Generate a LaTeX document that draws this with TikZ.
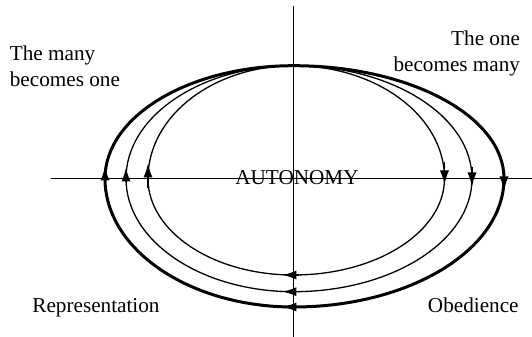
\documentclass[tikz,border=0pt]{standalone}
\usepackage{fontspec}
\setmainfont{Liberation Serif}
\usetikzlibrary{arrows.meta}

\tikzset{
    axisline/.style={line width=0.5pt},
    thinloop/.style={line width=0.65pt},
    thickloop/.style={line width=1.5pt},
    flowarrow/.style={line width=0.8pt,-{Latex[length=7pt,width=4.6pt]}},
    caption/.style={inner sep=0pt,font=\fontsize{10.6}{13}\selectfont},
}

\begin{document}
\begin{tikzpicture}[x=0.5pt,y=0.5pt]
    \useasboundingbox (-293.5,-158.5) rectangle (238.5,178.5);

    % axes
    \coordinate (ntop) at (0,172.5);
    \coordinate (nbot) at (0,-158.5);
    \coordinate (wend) at (-242.5,0);
    \coordinate (eend) at (238.5,0);
    \draw[axisline] (ntop) -- (nbot);
    \draw[axisline] (wend) -- (eend);

    % the three loops, all starting from the top
    \draw[thickloop] (0,112.8) arc[start angle=90,end angle=0,x radius=210.5,y radius=112.8]
        arc[start angle=0,end angle=-90,x radius=210.5,y radius=128.5]
        arc[start angle=270,end angle=180,x radius=188.5,y radius=128.5]
        arc[start angle=180,end angle=90,x radius=188.5,y radius=112.8];
    \draw[thinloop] (0,112.8) arc[start angle=90,end angle=0,x radius=178.5,y radius=112.8]
        arc[start angle=0,end angle=-90,x radius=178.5,y radius=113.2]
        arc[start angle=270,end angle=180,x radius=167.5,y radius=113.2]
        arc[start angle=180,end angle=90,x radius=167.5,y radius=112.8];
    \draw[thinloop] (0,112.8) arc[start angle=90,end angle=0,x radius=151,y radius=112.8]
        arc[start angle=0,end angle=-90,x radius=151,y radius=96.5]
        arc[start angle=270,end angle=180,x radius=145.5,y radius=96.5]
        arc[start angle=180,end angle=90,x radius=145.5,y radius=112.8];

    % arrows, right side (down)
    \draw[flowarrow] (210.5,6.5) -- (210.5,-12);
    \draw[flowarrow] (178.5,11.5) -- (178.5,-8);
    \draw[flowarrow] (151,16.5) -- (151,-6);
    % arrows, bottom (left)
    \draw[flowarrow] (6,-128.5) -- (-11,-128.5);
    \draw[flowarrow] (6,-113.2) -- (-11,-113.2);
    \draw[flowarrow] (6,-96.5) -- (-11,-96.5);
    % arrows, left side (up)
    \draw[flowarrow] (-188.5,-3) -- (-188.5,12);
    \draw[flowarrow] (-167.5,-3) -- (-167.5,11);
    \draw[flowarrow] (-145.5,-9.5) -- (-145.5,15);

    % labels
    \node[caption,anchor=north west,align=left] (many) at (-284,133) {The many\\becomes one};
    \node[caption,anchor=north east,align=right] (one) at (227,148) {The one\\becomes many};
    \node[caption,anchor=base] (auto) at (3.5,-6.5) {AUTONOMY};
    \node[caption,anchor=base west] (repr) at (-261.5,-134.5) {Representation};
    \node[caption,anchor=base east] (obed) at (225.5,-134.5) {Obedience};
\end{tikzpicture}
\end{document}
